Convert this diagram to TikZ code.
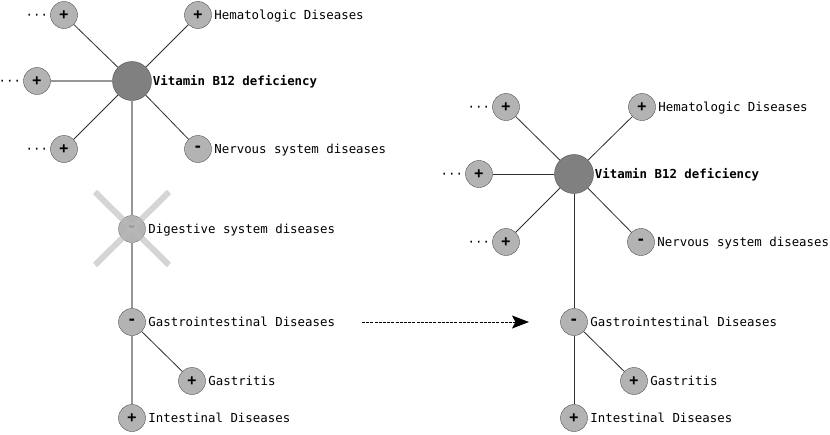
\documentclass[tikz,border=0pt]{standalone}
\usepackage{fontspec}
\setmainfont{DejaVu Sans Mono}
\usetikzlibrary{positioning, arrows.meta}
\definecolor{nodeFill}{RGB}{179, 179, 179}
\definecolor{hubFill}{RGB}{128, 128, 128}
\definecolor{rimColor}{RGB}{80, 80, 80}
\definecolor{edgeColor}{RGB}{45, 45, 45}
\definecolor{softEdge}{RGB}{150, 150, 150}
\definecolor{crossColor}{RGB}{185, 185, 185}
\tikzset{
    term_node/.style={
        circle,
        draw=rimColor,
        fill=nodeFill,
        minimum size=27pt,
        inner sep=0pt,
        font=\fontsize{15}{16}\selectfont\bfseries
    },
    hub_node/.style={
        circle,
        draw=rimColor,
        fill=hubFill,
        minimum size=39pt,
        inner sep=0pt
    },
    term_label/.style={
        label={[font=\fontsize{12.4}{14}\selectfont\mdseries, label distance=0.5pt,
                inner sep=2pt, text height=9pt, text depth=0pt]right:{#1}}
    },
    hub_label/.style={
        label={[font=\fontsize{12.4}{14}\selectfont\bfseries, label distance=0pt,
                inner sep=1pt, text height=9pt, text depth=0pt]right:{#1}}
    },
    more_label/.style={
        label={[font=\fontsize{12.4}{14}\selectfont\mdseries, label distance=1pt,
                inner sep=1pt, text height=8.6pt, text depth=0pt]left:{···}}
    },
    link/.style={
        draw=edgeColor,
        line width=0.8pt
    },
    soft_link/.style={
        draw=softEdge,
        line width=1.3pt
    },
    cross_bar/.style={
        draw=crossColor,
        line width=6pt,
        opacity=0.6
    },
    move_edge/.style={
        -{Stealth[length=17pt, width=13pt, inset=3.5pt]},
        dash pattern=on 3pt off 1.2pt,
        line width=1pt,
        draw=black
    }
}

\begin{document}
\begin{tikzpicture}[x=1pt, y=-1pt, on grid]
    \useasboundingbox (0,0) rectangle (830,434);

    % before: left tree
    \node[hub_node, hub_label={Vitamin B12 deficiency}] (vitL) at (132,81) {};
    \node[term_node, term_label={Hematologic Diseases}, above right=66pt and 66pt of vitL] (hemL) {+};
    \node[term_node, more_label, above left=66pt and 68pt of vitL] (topL) {+};
    \node[term_node, more_label, left=95pt of vitL] (midL) {+};
    \node[term_node, more_label, below left=68pt and 68pt of vitL] (lowL) {+};
    \node[term_node, term_label={Nervous system diseases}, below right=68pt and 66pt of vitL] (nerL) {-};
    \node[term_node, term_label={Digestive system diseases}, below=148pt of vitL, draw opacity=0.7] (digL) {-};
    \node[term_node, term_label={Gastrointestinal Diseases}, below=93pt of digL] (gasL) {-};
    \node[term_node, term_label={Gastritis}, below right=59pt and 60pt of gasL] (gstL) {+};
    \node[term_node, term_label={Intestinal Diseases}, below=96pt of gasL] (intL) {+};

    \foreach \n in {hemL, topL, lowL, nerL}
        \draw[link] (vitL) -- (\n);
    \draw[soft_link] (vitL) -- (midL);
    \draw[soft_link] (vitL) -- (digL);
    \draw[soft_link] (digL) -- (gasL);
    \draw[soft_link] (gasL) -- (intL);
    \draw[link] (gasL) -- (gstL);

    % the removed term
    \draw[cross_bar] ([shift={(-37pt,37pt)}]digL.center) -- ([shift={(37pt,-36pt)}]digL.center);
    \draw[cross_bar] ([shift={(-37pt,-36pt)}]digL.center) -- ([shift={(37pt,37pt)}]digL.center);

    % after: right tree
    \node[hub_node, hub_label={Vitamin B12 deficiency}] (vitR) at (574,174) {};
    \node[term_node, term_label={Hematologic Diseases}, above right=67pt and 68pt of vitR] (hemR) {+};
    \node[term_node, more_label, above left=67pt and 68pt of vitR] (topR) {+};
    \node[term_node, more_label, left=95pt of vitR] (midR) {+};
    \node[term_node, more_label, below left=68pt and 68pt of vitR] (lowR) {+};
    \node[term_node, term_label={Nervous system diseases}, below right=68pt and 67pt of vitR] (nerR) {-};
    \node[term_node, term_label={Gastrointestinal Diseases}, below=148pt of vitR] (gasR) {-};
    \node[term_node, term_label={Gastritis}, below right=59pt and 60pt of gasR] (gstR) {+};
    \node[term_node, term_label={Intestinal Diseases}, below=96pt of gasR] (intR) {+};

    \foreach \n in {hemR, topR, midR, lowR, nerR, gasR}
        \draw[link] (vitR) -- (\n);
    \draw[link] (gasR) -- (intR);
    \draw[link] (gasR) -- (gstR);

    % the move
    \coordinate[right=230pt of gasL] (arrFrom);
    \coordinate[left=45pt of gasR] (arrTo);
    \draw[move_edge] (arrFrom) -- (arrTo);
\end{tikzpicture}
\end{document}
